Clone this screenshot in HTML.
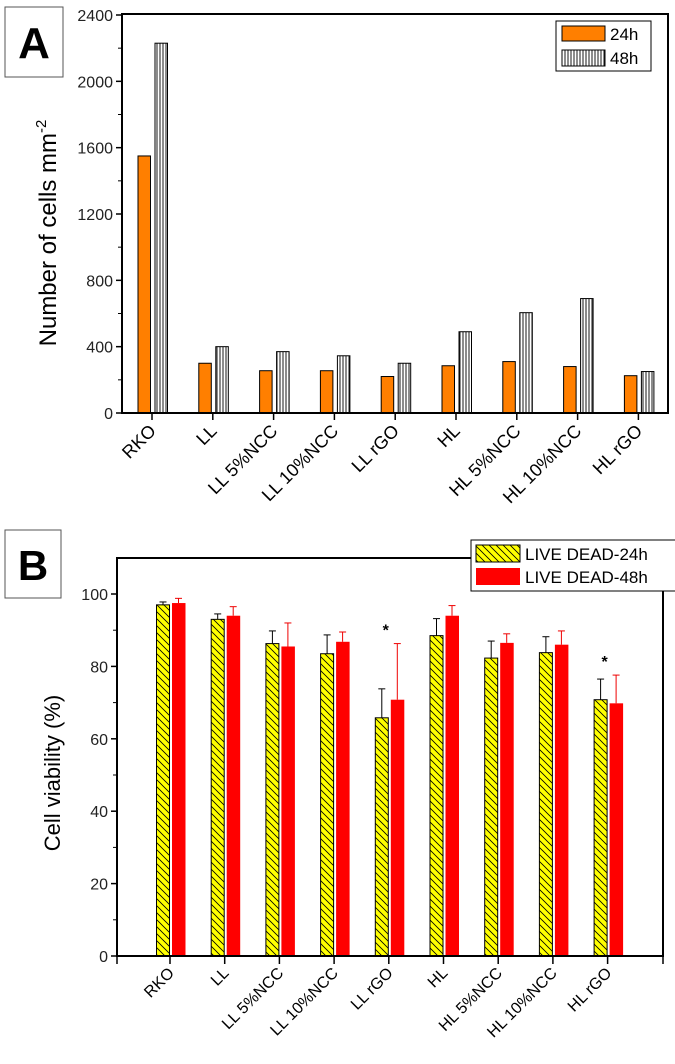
<!DOCTYPE html>
<html><head><meta charset="utf-8"><style>
html,body{margin:0;padding:0;background:#fff;}
svg{display:block;font-family:"Liberation Sans",Arial,sans-serif;}
</style></head><body>
<svg id="fig" width="675" height="1064" viewBox="0 0 675 1064" xmlns="http://www.w3.org/2000/svg">
<defs>
<pattern id="vstripe" patternUnits="userSpaceOnUse" width="3" height="10"><rect width="3" height="10" fill="#fff"/><line x1="1" y1="0" x2="1" y2="10" stroke="#000" stroke-width="0.9"/></pattern>
<pattern id="diag" patternUnits="userSpaceOnUse" width="7" height="7"><rect width="7" height="7" fill="#ffff00"/><path d="M-1,-1 L8,8 M-1,6 L1,8 M6,-1 L8,1" stroke="#000" stroke-width="0.8"/></pattern>
</defs>
<g id="panelA"></g>
<g id="panelB"></g>
</svg>
<script>
const categories = ["RKO","LL","LL 5%NCC","LL 10%NCC","LL rGO","HL","HL 5%NCC","HL 10%NCC","HL rGO"];
const cells24 = [1550,300,255,255,220,285,310,280,225];
const cells48 = [2230,400,370,345,300,490,605,690,250];
const ticksA = [0,400,800,1200,1600,2000,2400];
const via24 = [97,93,86.3,83.5,65.8,88.5,82.3,83.8,70.8];
const via24err = [0.8,1.5,3.5,5.2,8,4.7,4.7,4.4,5.7];
const via48 = [97.5,94,85.5,86.8,70.8,94,86.5,86,69.8];
const via48err = [1.3,2.5,6.5,2.7,15.5,2.8,2.5,3.8,7.8];
const ticksB = [0,20,40,60,80,100];
const starsB = [4,8];

const NS="http://www.w3.org/2000/svg";
function mk(parent,tag,attrs,text){const e=document.createElementNS(NS,tag);for(const k in attrs)e.setAttribute(k,attrs[k]);if(text!==undefined)e.textContent=text;parent.appendChild(e);return e;}

// Panel A
(function(){
  const g=document.getElementById('panelA');
  const L=122,R=668,T=14,B=413;
  const yA=v=>B-(v/2400)*(B-T-1);
  const xA=i=>152+i*60.8;
  let e;
  e=mk(g,'rect',{x:5,y:7,width:58,height:70,fill:'#fff',stroke:'#555','stroke-width':1});
  
  e=mk(g,'text',{x:34,y:58,'font-size':44,'font-weight':'bold','text-anchor':'middle'},'A');
  
  for(let i=0;i<categories.length;i++){
    e=mk(g,'rect',{x:xA(i)-14,y:yA(cells24[i]),width:12.5,height:B-yA(cells24[i]),fill:'#ff7f00',stroke:'#000','stroke-width':1});
    
    e=mk(g,'rect',{x:xA(i)+3,y:yA(cells48[i]),width:12.5,height:B-yA(cells48[i]),fill:'url(#vstripe)',stroke:'#000','stroke-width':1});
    
  }
  e=mk(g,'rect',{x:L,y:T,width:R-L,height:B-T,fill:'none',stroke:'#000','stroke-width':2});
  
  ticksA.forEach(v=>{
    mk(g,'line',{x1:L-6,x2:L,y1:yA(v),y2:yA(v),stroke:'#000','stroke-width':1.5});
    e=mk(g,'text',{x:L-9,y:yA(v)+6,'font-size':16,'text-anchor':'end',fill:'#222'},v);
    
  });
  for(let k=0;k<6;k++){const v=200+400*k;mk(g,'line',{x1:L-4,x2:L,y1:yA(v),y2:yA(v),stroke:'#000','stroke-width':1});}
  categories.forEach((c,i)=>{
    mk(g,'line',{x1:xA(i),x2:xA(i),y1:B,y2:B+7,stroke:'#000','stroke-width':1.5});
    e=mk(g,'text',{x:xA(i)+5,y:B+19,'font-size':18,'text-anchor':'end',transform:`rotate(-45 ${xA(i)+5} ${B+19})`},c);
    
  });
  e=mk(g,'text',{x:0,y:0,'font-size':24,'text-anchor':'middle',transform:'translate(56 233) rotate(-90)'});
  
  e.innerHTML='Number of cells mm<tspan dy="-10" font-size="15">-2</tspan>';
  e=mk(g,'g',{});
  mk(e,'rect',{x:556,y:21,width:95,height:50,fill:'#fff',stroke:'#000','stroke-width':1});
  mk(e,'rect',{x:562,y:26,width:43,height:15,fill:'#ff7f00',stroke:'#000','stroke-width':1});
  mk(e,'rect',{x:562,y:50,width:43,height:16,fill:'url(#vstripe)',stroke:'#000','stroke-width':1});
  mk(e,'text',{x:610,y:40,'font-size':17},'24h');
  mk(e,'text',{x:610,y:64,'font-size':17},'48h');
})();

// Panel B
(function(){
  const g=document.getElementById('panelB');
  const L=117,R=663,T=558,B=956;
  const yB=v=>B-v*3.62;
  const xB=i=>170+i*54.7;
  let e;
  e=mk(g,'rect',{x:5,y:530,width:56,height:68,fill:'#fff',stroke:'#555','stroke-width':1});
  
  e=mk(g,'text',{x:33,y:580,'font-size':42,'font-weight':'bold','text-anchor':'middle'},'B');
  
  for(let i=0;i<categories.length;i++){
    const x1=xB(i)-13.5,x2=xB(i)+2;
    mk(g,'line',{x1:x1+6.5,x2:x1+6.5,y1:yB(via24[i]),y2:yB(via24[i]+via24err[i]),stroke:'#000','stroke-width':1});
    mk(g,'line',{x1:x1+3,x2:x1+10,y1:yB(via24[i]+via24err[i]),y2:yB(via24[i]+via24err[i]),stroke:'#000','stroke-width':1});
    mk(g,'line',{x1:x2+6.5,x2:x2+6.5,y1:yB(via48[i]),y2:yB(via48[i]+via48err[i]),stroke:'#e00','stroke-width':1});
    mk(g,'line',{x1:x2+3,x2:x2+10,y1:yB(via48[i]+via48err[i]),y2:yB(via48[i]+via48err[i]),stroke:'#e00','stroke-width':1});
    e=mk(g,'rect',{x:x1,y:yB(via24[i]),width:13,height:B-yB(via24[i]),fill:'url(#diag)',stroke:'#000','stroke-width':1});
    
    e=mk(g,'rect',{x:x2,y:yB(via48[i]),width:13.5,height:B-yB(via48[i]),fill:'#ff0000'});
    
  }
  starsB.forEach(i=>{
    const top=Math.max(via24[i]+via24err[i],via48[i]+via48err[i]);
    e=mk(g,'text',{x:xB(i)-3,y:yB(top)-8,'font-size':16,'font-weight':'bold','text-anchor':'middle'},'*');
    
  });
  e=mk(g,'path',{d:`M${L},${T} L${R},${T} L${R},${B} L${L},${B} Z`,fill:'none',stroke:'#000','stroke-width':2});
  
  ticksB.forEach(v=>{
    mk(g,'line',{x1:L-6,x2:L,y1:yB(v),y2:yB(v),stroke:'#000','stroke-width':1.5});
    e=mk(g,'text',{x:L-9,y:yB(v)+6,'font-size':16,'text-anchor':'end',fill:'#222'},v);
    
  });
  for(let v=10;v<110;v+=20)mk(g,'line',{x1:L-4,x2:L,y1:yB(v),y2:yB(v),stroke:'#000','stroke-width':1});
  mk(g,'line',{x1:L,x2:L,y1:B,y2:B+8,stroke:'#000','stroke-width':1.5});
  mk(g,'line',{x1:R,x2:R,y1:B,y2:B+8,stroke:'#000','stroke-width':1.5});
  categories.forEach((c,i)=>{
    mk(g,'line',{x1:xB(i),x2:xB(i),y1:B,y2:B+8,stroke:'#000','stroke-width':1.5});
    e=mk(g,'text',{x:xB(i)+5,y:B+18,'font-size':16,'text-anchor':'end',transform:`rotate(-45 ${xB(i)+5} ${B+18})`},c);
    
  });
  e=mk(g,'text',{x:0,y:0,'font-size':22,'text-anchor':'middle',transform:'translate(60 773) rotate(-90)'},'Cell viability (%)');
  
  e=mk(g,'g',{});
  mk(e,'rect',{x:471,y:540,width:206,height:51,fill:'#fff',stroke:'#000','stroke-width':1});
  mk(e,'rect',{x:476,y:545,width:44,height:17,fill:'url(#diag)',stroke:'#000','stroke-width':1});
  mk(e,'rect',{x:476,y:568,width:44,height:17,fill:'#ff0000'});
  mk(e,'text',{x:525,y:560,'font-size':17},'LIVE DEAD-24h');
  mk(e,'text',{x:525,y:583,'font-size':17},'LIVE DEAD-48h');
})();
</script>
</body></html>
